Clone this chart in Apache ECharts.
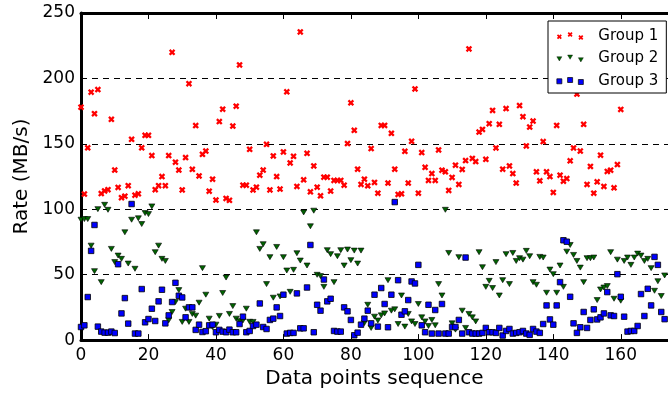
<!DOCTYPE html>
<html>
<head>
<meta charset="utf-8">
<script src="https://cdn.jsdelivr.net/npm/echarts@6/dist/echarts.min.js"></script>
<style>html,body{margin:0;padding:0;background:#fff;}#c{width:668px;height:394px;}</style>
</head>
<body>
<div id="c"></div>
<script>
// ---- data (index = data point sequence) ----
const group1 = [178,111.6,147,189.5,173,191.5,112,114,115,168.7,130,116.7,108.8,110,118,153.5,110.8,111.8,147,156.5,156.5,141,115,118,125,118,141,220,136,130,114.8,139.5,196,130.5,164,125.5,142,144.5,113.8,123,107,167,176.5,
108.3,106.8,163.6,178.8,210.3,118.4,118.4,145.8,114.8,116.9,126,130,149.6,114.8,140.8,125,115.4,143.8,189.8,135.4,140.5,117.4,235.5,122.5,142.8,113.3,133.1,116.9,110.3,124.5,124.5,113.9,122,122,122,118.4,150.2,181.4,160.3,130.6,119,123,
117.9,146.4,120.5,112.3,164.1,164.1,120,158,130.6,111.3,111.8,144.3,120,151.9,192,112.3,143.3,132.1,122,127.3,122,145.3,129.9,128.6,114.4,124.3,133.7,119,130.4,137.2,222.5,138.8,136.5,159,161,138.2,165.4,175.5,146.9,164.9,130.6,177,133.1,
127.3,120,179.3,170.8,148.4,162.8,167.4,128.6,121.7,151.7,128.6,125,112.9,164.1,126,121.5,123.5,137,146.9,188,144.5,164.9,119,132.7,112.3,121,141.3,117.4,128.9,129.9,116.4,134.2,176.3];

const group2 = [92,92.5,92.5,72.2,52.7,100.1,44.3,103.4,99.6,69.7,59.6,64.6,62.1,82.4,58.5,92,54.5,93.1,88.7,97.1,96.3,102.2,67.2,72.2,62.1,60.5,15.1,21.5,29.1,38.2,13.9,24,13.9,20,18.7,28.6,55,34.7,16.4,10,11.8,18.5,36,47.8,20,26,16.4,14.5,15,24,14,13.9,
82.4,69.7,73.3,42.8,63.4,32.4,71.2,33.4,63.4,53.2,36.9,53.7,66.4,60.8,97.6,57,87,98.9,49.9,48.9,40.7,68.7,65.7,44.3,64.1,68.7,57,69.2,61.1,68.4,58.5,68.4,13,27,9.3,17.9,15,18.9,20.4,45.8,22.5,23.5,12.3,34.1,10.3,20,14.3,12.3,27.6,17.4,14.3,10.8,15.4,11.3,42.8,34.1,99.6,66.6,12.8,8,63.4,22.5,9.3,20,17.4,14.3,
67.2,55.7,40.7,45.3,39.8,59.6,34.1,45.8,65.7,42.8,66.6,60.5,62.6,61.5,68.2,64.1,44.3,42.3,63.6,63.1,36.2,53.9,50.4,36.2,57,40.7,67.6,72.7,65.1,60.5,55.4,44.3,62.6,62.6,63.1,30.6,38.7,40.2,41.3,67.2,31.6,61.5,30.1,60.5,63.1,57.5,63.1,66.1,64.6,60.5,62.1,55,37.7,45,33.7,49.4];

const group3 = [10,11.3,32.9,68.2,88,10.3,6.5,5.7,5.7,6.5,5.4,58,20.4,32.1,12.6,104,5,5,39,13.6,16.1,24,14.6,29.6,38.5,12.8,18.9,29.1,43.8,33.9,32.6,17.4,25,25,7.8,11.8,6.2,6.8,11.3,11.8,6,7.8,6.5,6,8,6,6,12.3,17.9,6,7,10.8,11.8,28,10,8.5,15.4,16.4,25,18.4,34.7,5,5.5,5.5,35.7,9,9,40.2,72.7,6,27,22.5,46.3,29.6,31.6,7,6.5,6.5,25,22,15.4,3.7,5.7,11.8,16.4,22.5,12.8,34.7,10.3,39.8,27.6,9.8,34.7,105.5,45.8,19.4,22,30.6,44.8,43.3,57.5,11.3,6,27,5,23,5,27.6,5,5,10,10,15.4,5,63.1,6,5,5,5,5.5,9.3,6,6,5.5,9.3,3.5,7,8.5,5,5.5,6,7,5,4,8.5,6.5,5.5,12.3,26.5,15.8,11.8,26.5,44.3,76.3,75.2,33.1,12.8,5.5,9.8,21.5,9.3,15.4,23.5,15.8,17.4,20.4,36.7,18.9,18.4,50.4,33.1,17.9,6.5,7,7,10.8,35.2,18.4,39.2,26.5,63.6,57.5,21.5,16];

const seriesNames = ['Group 1','Group 2','Group 3'];
const xTicks = [0,20,40,60,80,100,120,140,160];
const yTicks = [0,50,100,150,200,250];

// ---- shapes ----
function crossPath(ox, oy, s) {
  const k = s / 10;
  const pts = [[0,2.5],[2.5,0],[5,2.5],[7.5,0],[10,2.5],[7.5,5],[10,7.5],[7.5,10],[5,7.5],[2.5,10],[0,7.5],[2.5,5]];
  return pts.map((p,i)=>(i?'L':'M')+(ox+p[0]*k).toFixed(2)+','+(oy+p[1]*k).toFixed(2)).join('')+'Z';
}
function triPath(ox, oy, s) {
  return 'M'+ox+','+oy+'L'+(ox+s)+','+oy+'L'+(ox+s/2)+','+(oy+s*0.85)+'Z';
}
function sqPath(ox, oy, s) {
  return 'M'+ox+','+oy+'L'+(ox+s)+','+oy+'L'+(ox+s)+','+(oy+s)+'L'+ox+','+(oy+s)+'Z';
}
const xSymbol = 'path://' + crossPath(0,0,10);
const legendIcons = [
  'path://' + crossPath(0,2.2,5) + crossPath(10.75,0,5) + crossPath(21.5,3,5),
  'path://' + triPath(0,1.7,5) + triPath(10.75,0,5) + triPath(21.5,2.7,5),
  'path://' + sqPath(0,1.3,5) + sqPath(10.75,0,5) + sqPath(21.5,2,5)
];
const legendBorders = [0, 0.4, 0.7];

const toPts = arr => arr.map((v,i)=>[i,v]);
const FONT = 'DejaVu Sans';

const chart = echarts.init(document.getElementById('c'), null, {renderer:'canvas'});
chart.setOption({
  animation: false,
  backgroundColor: '#fff',
  grid: {left: 81, right: -3, top: 13, bottom: 52.5, containLabel: false},
  legend: {
    left: 548, top: 21,
    orient: 'vertical',
    padding: [6.5, 8, 3.5, 8.5],
    itemGap: 5.5,
    itemWidth: 26.5, itemHeight: 8,
    borderColor: '#000', borderWidth: 1, borderRadius: 0,
    backgroundColor: '#fff',
    textStyle: {fontFamily: FONT, fontSize: 15, color: '#000', padding: [0,0,0,10], lineHeight: 17},
    data: seriesNames.map((n,i)=>({name: n, icon: legendIcons[i], itemStyle: {borderWidth: legendBorders[i]}}))
  },
  xAxis: [{
    type: 'value', min: 0, max: 174, interval: 20, position: 'bottom',
    name: 'Data points sequence', nameLocation: 'middle', nameGap: 28,
    nameTextStyle: {fontFamily: FONT, fontSize: 20, color: '#000'},
    axisLine: {show: true, onZero: false, lineStyle: {color: '#000', width: 3}},
    axisTick: {show: true, inside: true, length: 6, customValues: xTicks, lineStyle: {color: '#000', width: 1}},
    axisLabel: {show: true, customValues: xTicks, fontFamily: FONT, fontSize: 17, color: '#000', margin: 7},
    splitLine: {show: false}
  }, {
    type: 'value', min: 0, max: 174, interval: 20, position: 'top',
    axisLine: {show: true, onZero: false, lineStyle: {color: '#000', width: 3}},
    axisTick: {show: true, inside: true, length: 6, customValues: xTicks, lineStyle: {color: '#000', width: 1}},
    axisLabel: {show: false},
    splitLine: {show: false}
  }],
  yAxis: [{
    type: 'value', min: 0, max: 250, interval: 50, position: 'left',
    name: 'Rate (MB/s)', nameLocation: 'middle', nameGap: 41,
    nameTextStyle: {fontFamily: FONT, fontSize: 20, color: '#000'},
    axisLine: {show: true, onZero: false, lineStyle: {color: '#000', width: 3}},
    axisTick: {show: true, inside: true, length: 6, customValues: yTicks, lineStyle: {color: '#000', width: 1}},
    axisLabel: {show: true, customValues: yTicks, fontFamily: FONT, fontSize: 17, color: '#000', margin: 6},
    splitLine: {show: true, lineStyle: {color: '#000', width: 1, type: [6, 5]}}
  }],
  series: [
    {name: seriesNames[0], type: 'scatter', xAxisIndex: 0, yAxisIndex: 0, data: toPts(group1),
     symbol: xSymbol, symbolSize: 6.5, itemStyle: {color: '#ff0000', opacity: 1}},
    {name: seriesNames[1], type: 'scatter', xAxisIndex: 0, yAxisIndex: 0, data: toPts(group2),
     symbol: 'triangle', symbolRotate: 180, symbolSize: [6, 5],
     itemStyle: {color: '#006400', borderColor: '#000', borderWidth: 0.6, opacity: 1}},
    {name: seriesNames[2], type: 'scatter', xAxisIndex: 0, yAxisIndex: 0, data: toPts(group3),
     symbol: 'rect', symbolSize: 5.5,
     itemStyle: {color: '#0000ff', borderColor: '#000', borderWidth: 0.8, opacity: 1}}
  ]
});
</script>
</body>
</html>
